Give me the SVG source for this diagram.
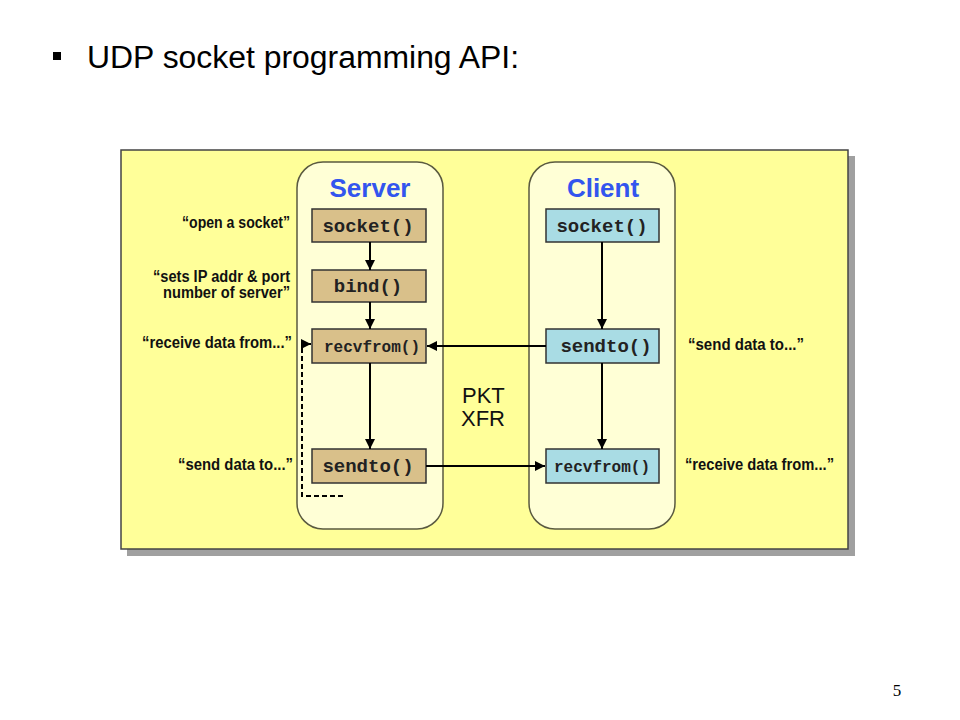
<svg xmlns="http://www.w3.org/2000/svg" width="960" height="720" viewBox="0 0 960 720">
<style>
.lane{fill:#ffffd6;stroke:#5a5a40;stroke-width:1.5}
.sbox{fill:#d9c08a;stroke:#333;stroke-width:1.5}
.cbox{fill:#a9dce4;stroke:#333;stroke-width:1.5}
.code{font-family:"Liberation Mono",monospace;font-weight:bold;font-size:19px;fill:#222;text-anchor:middle}
.codes{font-family:"Liberation Mono",monospace;font-weight:bold;font-size:16px;fill:#222;text-anchor:middle}
.lbl{font-family:"Liberation Sans",Arial,sans-serif;font-weight:bold;font-size:16px;fill:#111}
.title{font-family:"Liberation Sans",Arial,sans-serif;font-weight:bold;font-size:26px;fill:#3355ee;text-anchor:middle}
.conn{stroke:#000;stroke-width:2;fill:none}
</style>
<defs>
<marker id="ah" viewBox="0 0 10 10" refX="10" refY="5" markerWidth="5" markerHeight="5" orient="auto">
<path d="M0,0 L10,5 L0,10 z" fill="#000"/>
</marker>
</defs>
<rect x="0" y="0" width="960" height="720" fill="#fff"/>
<rect x="53" y="52" width="8" height="8" fill="#000"/>
<text x="87" y="68" font-family="Liberation Sans,Arial,sans-serif" font-size="31" textLength="432" lengthAdjust="spacingAndGlyphs" fill="#000">UDP socket programming API:</text>
<text x="897" y="696" font-family="Liberation Serif,serif" font-size="17" fill="#000" text-anchor="middle">5</text>

<g id="frame">
<rect x="127" y="156" width="728" height="400" fill="#a0a0a0"/>
<rect x="121" y="150" width="727" height="399" fill="#ffff99" stroke="#444" stroke-width="1.5"/>
</g>

<g id="server-lane">
<rect class="lane" x="297" y="162" width="146" height="367" rx="26"/>
<text class="title" x="370" y="197">Server</text>
</g>
<g id="client-lane">
<rect class="lane" x="529" y="162" width="146" height="367" rx="26"/>
<text class="title" x="603" y="197">Client</text>
</g>

<g id="s-socket"><rect class="sbox" x="312" y="209" width="114" height="33"/><text class="code" x="368" y="232">socket()</text></g>
<g id="s-bind"><rect class="sbox" x="312" y="270" width="114" height="32"/><text class="code" x="368" y="292">bind()</text></g>
<g id="s-recvfrom"><rect class="sbox" x="312" y="329" width="114" height="34"/><text class="codes" x="372" y="352">recvfrom()</text></g>
<g id="s-sendto"><rect class="sbox" x="312" y="449" width="114" height="34"/><text class="code" x="368" y="472">sendto()</text></g>

<g id="c-socket"><rect class="cbox" x="546" y="209" width="113" height="33"/><text class="code" x="602" y="232">socket()</text></g>
<g id="c-sendto"><rect class="cbox" x="546" y="329" width="113" height="34"/><text class="code" x="606" y="352">sendto()</text></g>
<g id="c-recvfrom"><rect class="cbox" x="546" y="449" width="113" height="34"/><text class="codes" x="602" y="472">recvfrom()</text></g>

<g id="labels">
<text class="lbl" x="290" y="228" text-anchor="end" textLength="108" lengthAdjust="spacingAndGlyphs">“open a socket”</text>
<text class="lbl" x="290" y="282" text-anchor="end" textLength="137" lengthAdjust="spacingAndGlyphs">“sets IP addr &amp; port</text>
<text class="lbl" x="290" y="298" text-anchor="end" textLength="127" lengthAdjust="spacingAndGlyphs">number of server”</text>
<text class="lbl" x="292" y="348" text-anchor="end" textLength="150" lengthAdjust="spacingAndGlyphs">“receive data from...”</text>
<text class="lbl" x="293" y="470" text-anchor="end" textLength="115" lengthAdjust="spacingAndGlyphs">“send data to...”</text>
<text class="lbl" x="688" y="350" textLength="116" lengthAdjust="spacingAndGlyphs">“send data to...”</text>
<text class="lbl" x="685" y="470" textLength="149" lengthAdjust="spacingAndGlyphs">“receive data from...”</text>
<text x="462" y="403" font-family="Liberation Sans,Arial,sans-serif" font-size="22" fill="#111">PKT</text>
<text x="461" y="426" font-family="Liberation Sans,Arial,sans-serif" font-size="22" fill="#111">XFR</text>
</g>

<g id="connectors">
<line class="conn" x1="370" y1="242" x2="370" y2="270" marker-end="url(#ah)"/>
<line class="conn" x1="370" y1="302" x2="370" y2="329" marker-end="url(#ah)"/>
<line class="conn" x1="370" y1="363" x2="370" y2="449" marker-end="url(#ah)"/>
<line class="conn" x1="602" y1="242" x2="602" y2="329" marker-end="url(#ah)"/>
<line class="conn" x1="602" y1="363" x2="602" y2="449" marker-end="url(#ah)"/>
<line class="conn" x1="546" y1="346" x2="427" y2="346" marker-end="url(#ah)"/>
<line class="conn" x1="426" y1="466" x2="545" y2="466" marker-end="url(#ah)"/>
<polyline class="conn" points="343,496 302,496 302,344 311,344" stroke-dasharray="5,3" marker-end="url(#ah)"/>
</g>
</svg>
